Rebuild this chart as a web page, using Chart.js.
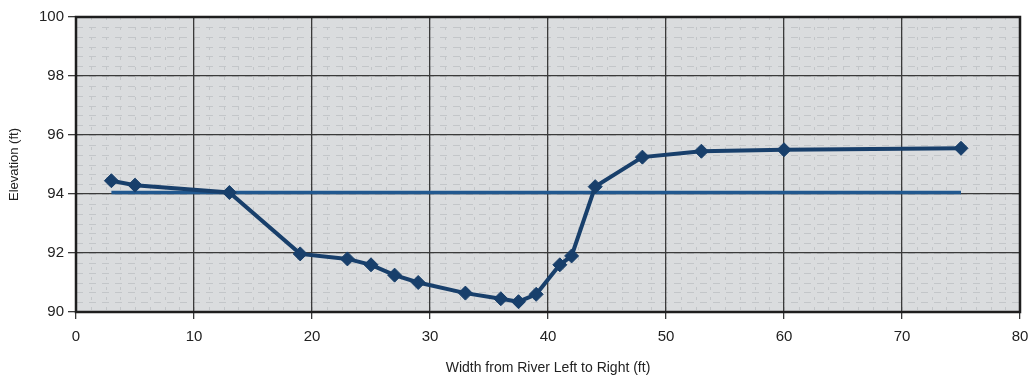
<!DOCTYPE html>
<html>
<head>
<meta charset="utf-8">
<script src="https://cdn.jsdelivr.net/npm/chart.js@4"></script>
<style>
  html, body { margin: 0; padding: 0; background: #ffffff; }
  #wrap { width: 1031px; height: 377px; position: relative; }
</style>
</head>
<body>
<div id="wrap"><canvas id="xsec"></canvas></div>
<script>
// cross-section survey: station across the river (ft) and bed elevation (ft)
const station = [3, 5, 13, 19, 23, 25, 27, 29, 33, 36, 37.5, 39, 41, 42, 44, 48, 53, 60, 75];
const elevation = [94.45, 94.3, 94.05, 91.97, 91.8, 91.6, 91.25, 91.0, 90.64, 90.45, 90.35, 90.6, 91.6, 91.9, 94.25, 95.25, 95.45, 95.5, 95.55];
// water surface line
const waterStation = [3, 75];
const waterLevel = [94.05, 94.05];
// axis ranges / tick steps
const xTicks = [0, 80, 10];
const yTicks = [90, 100, 2];

function toPoints(xs, ys) {
  return xs.map((x, i) => ({ x: x, y: ys[i] }));
}

// gray plot background with a faint dashed texture + heavy frame
const plotBack = {
  id: "plotBack",
  beforeDraw(chart) {
    const { ctx, chartArea: a, scales } = chart;
    ctx.save();
    ctx.fillStyle = "#dadcde";
    ctx.fillRect(a.left, a.top, a.right - a.left, a.bottom - a.top);
    ctx.strokeStyle = "#c3c6c9";
    ctx.lineWidth = 1;
    ctx.setLineDash([7, 6]);
    for (let v = yTicks[0]; v < yTicks[1]; v += 1 / 3) {
      const y = Math.round(scales.y.getPixelForValue(v)) + 0.5;
      ctx.beginPath();
      ctx.moveTo(a.left, y);
      ctx.lineTo(a.right, y);
      ctx.stroke();
    }
    ctx.setLineDash([3, 7]);
    for (let v = xTicks[0]; v < xTicks[1]; v += 1.25) {
      const x = Math.round(scales.x.getPixelForValue(v)) + 0.5;
      ctx.beginPath();
      ctx.moveTo(x, a.top);
      ctx.lineTo(x, a.bottom);
      ctx.stroke();
    }
    ctx.restore();
  },
  afterDatasetsDraw(chart) {
    const { ctx, chartArea: a } = chart;
    ctx.save();
    ctx.strokeStyle = "#1e1e1e";
    ctx.lineWidth = 2.5;
    ctx.strokeRect(a.left, a.top, a.right - a.left, a.bottom - a.top);
    ctx.restore();
  }
};

const ctx = document.getElementById("xsec").getContext("2d");
const chart = new Chart(ctx, {
  type: "scatter",
  data: {
    datasets: [
      {
        label: "Water surface",
        data: toPoints(waterStation, waterLevel),
        showLine: true,
        borderColor: "#21588f",
        borderWidth: 3.5,
        pointRadius: 0,
        order: 2
      },
      {
        label: "Bed",
        data: toPoints(station, elevation),
        showLine: true,
        borderColor: "#183f6b",
        backgroundColor: "#183f6b",
        borderWidth: 4,
        pointStyle: "rectRot",
        pointRadius: 7,
        pointBorderWidth: 1,
        order: 1
      }
    ]
  },
  options: {
    responsive: true,
    maintainAspectRatio: false,
    animation: false,
    layout: { padding: { top: 17, right: 11, left: 0, bottom: 0 } },
    plugins: { legend: { display: false }, tooltip: { enabled: false } },
    scales: {
      x: {
        type: "linear",
        min: xTicks[0],
        max: xTicks[1],
        ticks: {
          stepSize: xTicks[2],
          color: "#222222",
          font: { family: "Liberation Sans", size: 15 },
          padding: 9,
          maxRotation: 0
        },
        grid: { color: "#3a3a3a", lineWidth: 1.3, tickLength: 7, tickColor: "#3a3a3a" },
        border: { display: false },
        title: {
          display: true,
          text: "Width from River Left to Right (ft)",
          color: "#222222",
          font: { family: "Liberation Sans", size: 14 },
          padding: { top: 3, bottom: 0 }
        },
        afterFit(s) {
          s.height = 65;
          s.paddingLeft = 4;
          s.paddingRight = 9;
        }
      },
      y: {
        type: "linear",
        min: yTicks[0],
        max: yTicks[1],
        ticks: {
          stepSize: yTicks[2],
          color: "#222222",
          font: { family: "Liberation Sans", size: 15 },
          padding: 4
        },
        grid: { color: "#3a3a3a", lineWidth: 1.3, tickLength: 8, tickColor: "#3a3a3a" },
        border: { display: false },
        title: {
          display: true,
          text: "Elevation (ft)",
          color: "#222222",
          font: { family: "Liberation Sans", size: 13 },
          padding: { top: 7, bottom: 4 }
        },
        afterFit(s) { s.width = 76; }
      }
    }
  },
  plugins: [plotBack]
});
</script>
</body>
</html>
